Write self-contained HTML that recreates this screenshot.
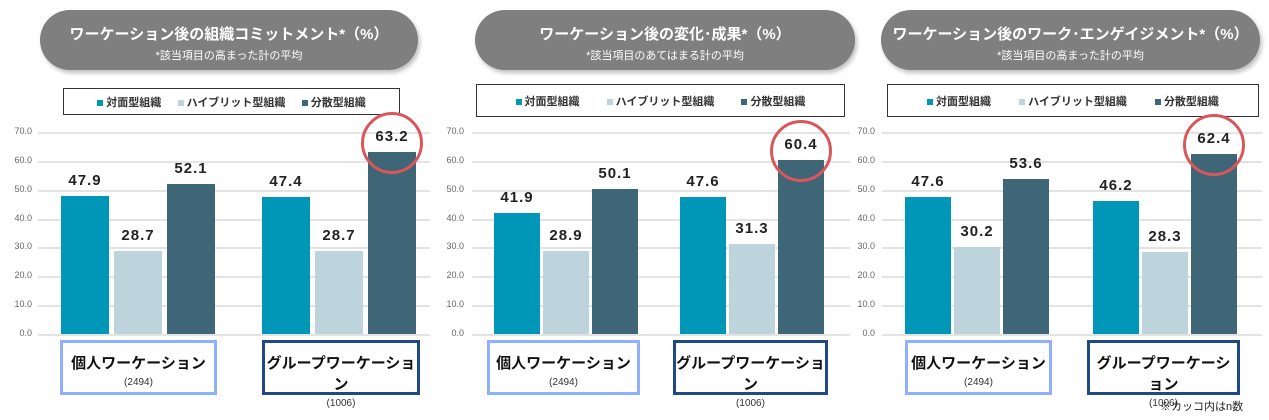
<!DOCTYPE html>
<html><head><meta charset="utf-8">
<style>
body{margin:0;width:1269px;height:420px;background:#fff;position:relative;overflow:hidden;font-family:"Liberation Sans","Noto Sans CJK JP",sans-serif;}
.abs{position:absolute;}
.pill{background:#7f7f7f;border-radius:30px;box-shadow:2px 3px 4px rgba(0,0,0,0.25);color:#fff;text-align:center;}
.pill .t{font-size:15px;font-weight:bold;margin-top:13px;}
.pill .s{font-size:11px;margin-top:3px;}
.legend{border:1.5px solid #333;box-sizing:border-box;font-size:11px;font-weight:bold;color:#333;}
.grid{height:1px;background:#e3e3e3;}
.tick{font-size:9px;color:#666;width:26px;text-align:right;}
.val{font-size:15px;font-weight:bold;color:#222;text-align:center;letter-spacing:1px;}
.cat{box-sizing:border-box;background:#fff;text-align:center;}
.cat .n{font-size:15px;font-weight:bold;color:#111;margin-top:9px;}
.cat .c{font-size:10px;color:#333;margin-top:4px;}
.circ{border:3.5px solid #d9575a;border-radius:50%;box-sizing:border-box;}
</style></head><body>
<div id="root"></div>
<div class="abs" style="left:1160px;top:398px;font-size:11px;color:#222;">※カッコ内はn数</div>
<script>
const titles=["ワーケーション後の組織コミットメント*（%）","ワーケーション後の変化･成果*（%）","ワーケーション後のワーク･エンゲイジメント*（%）"];
const subtitles=["*該当項目の高まった計の平均","*該当項目のあてはまる計の平均","*該当項目の高まった計の平均"];
const seriesNames=["対面型組織","ハイブリット型組織","分散型組織"];
const categories=["個人ワーケーション","グループワーケーション"];
const counts=["(2494)","(1006)"];
const ticks=[0,10,20,30,40,50,60,70];
const p1Solo=[47.9,28.7,52.1], p1Group=[47.4,28.7,63.2];
const p2Solo=[41.9,28.9,50.1], p2Group=[47.6,31.3,60.4];
const p3Solo=[47.6,30.2,53.6], p3Group=[46.2,28.3,62.4];
const panelData=[[p1Solo,p1Group],[p2Solo,p2Group],[p3Solo,p3Group]];
const colors=["#0096b8","#bdd4dc","#3e6677"];
const layout=[
 {pill:[40,10,378],leg:[63,88,337,27],grid:[38,430],tick:6,g:[61,262],bw:48,st:53,box:[[60,217],[262,420]]},
 {pill:[475,10,380],leg:[476,84,369,33],grid:[472,850],tick:438,g:[494,680],bw:46,st:49,box:[[487,640],[673,828]]},
 {pill:[881,10,379],leg:[887,84,372,33],grid:[882,1262],tick:849,g:[905,1093],bw:46,st:49,box:[[905,1052],[1087,1240]]}
];
const y0=334,y70=132;
function y(v){return y0-(v/70)*(y0-y70);}
const root=document.getElementById('root');
function mk(cls,l,t,w,h){const d=document.createElement('div');d.className='abs '+cls;d.style.left=l+'px';d.style.top=t+'px';if(w!=null)d.style.width=w+'px';if(h!=null)d.style.height=h+'px';root.appendChild(d);return d;}
panelData.forEach((pd,pi)=>{
 const L=layout[pi];
 const p=mk('pill',L.pill[0],L.pill[1],L.pill[2],60);
 
 
 p.innerHTML='<div class="t">'+titles[pi]+'</div><div class="s">'+subtitles[pi]+'</div>';
 const lg=mk('legend',L.leg[0],L.leg[1],L.leg[2],L.leg[3]);
 
 
 lg.style.display='flex';lg.style.justifyContent='space-around';lg.style.alignItems='center';lg.style.padding='0 25px';
 seriesNames.forEach((s,si)=>{const e=document.createElement('span');
  
  
  e.innerHTML='<span style="display:inline-block;width:6px;height:6px;background:'+colors[si]+';margin-right:3px;vertical-align:middle"></span>'+s;lg.appendChild(e);});
 ticks.forEach(t=>{
  const g=mk('grid',L.grid[0],Math.round(y(t)),L.grid[1]-L.grid[0],1.5);
  
  
  const tl=mk('tick',L.tick,Math.round(y(t))-6);
  tl.textContent=t.toFixed(1);
  
  
 });
 pd.forEach((vals,gi)=>{
  vals.forEach((v,si)=>{
   const x=L.g[gi]+si*L.st;
   const b=mk('',x,y(v),L.bw,y0-y(v));b.style.background=colors[si];
   
   
   const t=mk('val',x-10,y(v)-24,L.bw+20);t.textContent=v.toFixed(1);
   
   
  });
  const mx=Math.max(...pd[0],...pd[1]);
  if(gi===1){const si=2,v=vals[2];const cx=L.g[1]+2*L.st+L.bw/2;const c=mk('circ',cx-31,y(v)-40,62,62);
   
   }
  const bx=L.box[gi];
  const cb=mk('cat',bx[0],340,bx[1]-bx[0],55);
  cb.style.border=gi?'3px solid #1f4a85':'3px solid #8fb0ff';
  
  
  cb.innerHTML='<div class="n">'+categories[gi]+'</div><div class="c">'+counts[gi]+'</div>';
 });
});
</script>
</body></html>
